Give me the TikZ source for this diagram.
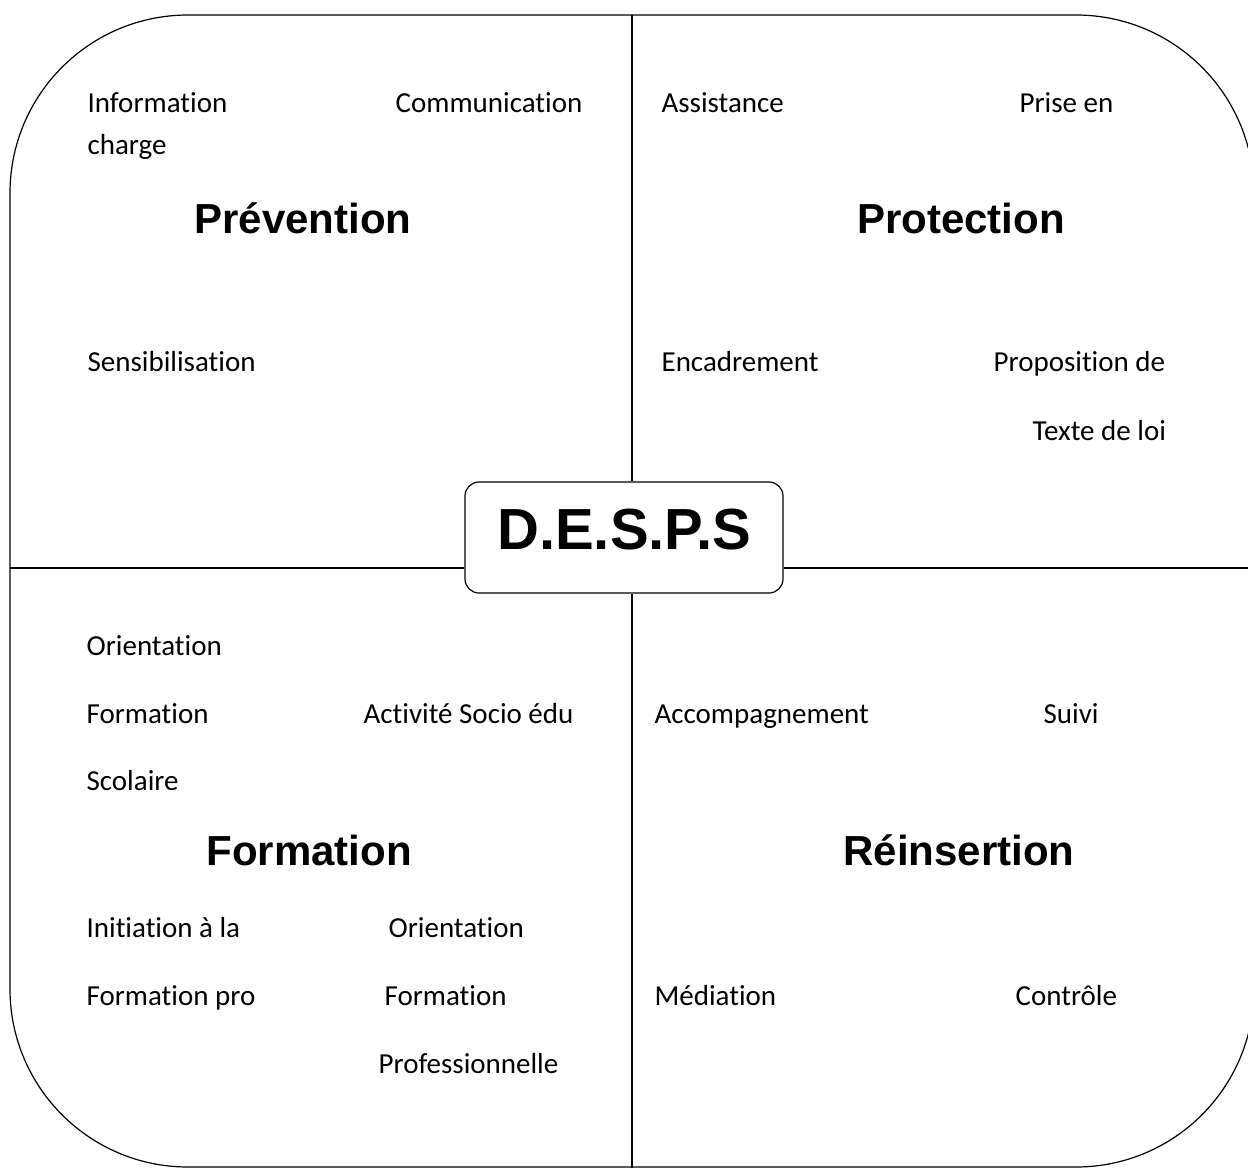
\documentclass[tikz,border=0pt]{standalone}
\usepackage{fontspec}
\setmainfont{Carlito}[Ligatures=NoCommon]
\newfontfamily\headfont{Liberation Sans}

\begin{document}
\begin{tikzpicture}[x=1pt, y=-1pt, line width=1.2pt,
	every node/.style={inner sep=0pt},
	item/.style={anchor=base west, font=\fontsize{29}{34}\selectfont},
	head/.style={anchor=base, font=\headfont\bfseries\fontsize{42}{48}\selectfont},
	hub/.style={draw, rounded corners=14pt, minimum width=318pt, minimum height=111pt,
		text depth=17pt, font=\headfont\bfseries\fontsize{58}{66}\selectfont}]
	
	\useasboundingbox (0,0) rectangle (1248,1168);
	\clip (0,0) rectangle (1248,1168);
	
	% Outer frame
	\draw[rounded corners=178pt] (10,15) rectangle (1254,1167);
	
	% Centre
	\node[hub] (despS) at (624,537.5) {D.E.S.P.S};
	
	% Dividers
	\coordinate (vtop) at (632,15);
	\coordinate (vbot) at (632,1168);
	\coordinate (hleft) at (10,568);
	\coordinate (hright) at (1248,568);
	\draw (vtop) -- (vtop |- despS.north);
	\draw (vbot) -- (vbot |- despS.south);
	\draw (hleft) -- (hleft -| despS.west);
	\draw (hright) -- (hright -| despS.east);
	
	% Prevention
	\node[item] (info) at (87,112) {Information};
	\node[item] (charge) at (87,154) {charge};
	\node[item] (comm) at (395,112) {Communication};
	\node[head] (prev) at (303,233) {Prévention};
	\node[item] (sensi) at (87,371) {Sensibilisation};
	
	% Protection
	\node[item] (assist) at (661,112) {Assistance};
	\node[item] (prise) at (1019,112) {Prise en};
	\node[head] (prot) at (961,233) {Protection};
	\node[item] (encad) at (661,371) {Encadrement};
	\node[item] (propo) at (993,371) {Proposition de};
	\node[item] (texte) at (1032,440) {Texte de loi};
	
	% Formation
	\node[item] (orient) at (86,655) {Orientation};
	\node[item] (form) at (86,723) {Formation};
	\node[item] (activ) at (363,723) {Activité Socio édu};
	\node[item] (scol) at (86,790) {Scolaire};
	\node[head] (forma) at (309,865) {Formation};
	\node[item] (initi) at (86,937) {Initiation à la};
	\node[item] (orientB) at (388,937) {Orientation};
	\node[item] (formpro) at (86,1005) {Formation pro};
	\node[item] (formB) at (384,1005) {Formation};
	\node[item] (profe) at (378,1073) {Professionnelle};
	
	% Reinsertion
	\node[item] (accomp) at (654,723) {Accompagnement};
	\node[item] (suivi) at (1043,723) {Suivi};
	\node[head] (reins) at (959,865) {Réinsertion};
	\node[item] (media) at (654,1005) {Médiation};
	\node[item] (contr) at (1015,1005) {Contrôle};
	
\end{tikzpicture}
\end{document}
